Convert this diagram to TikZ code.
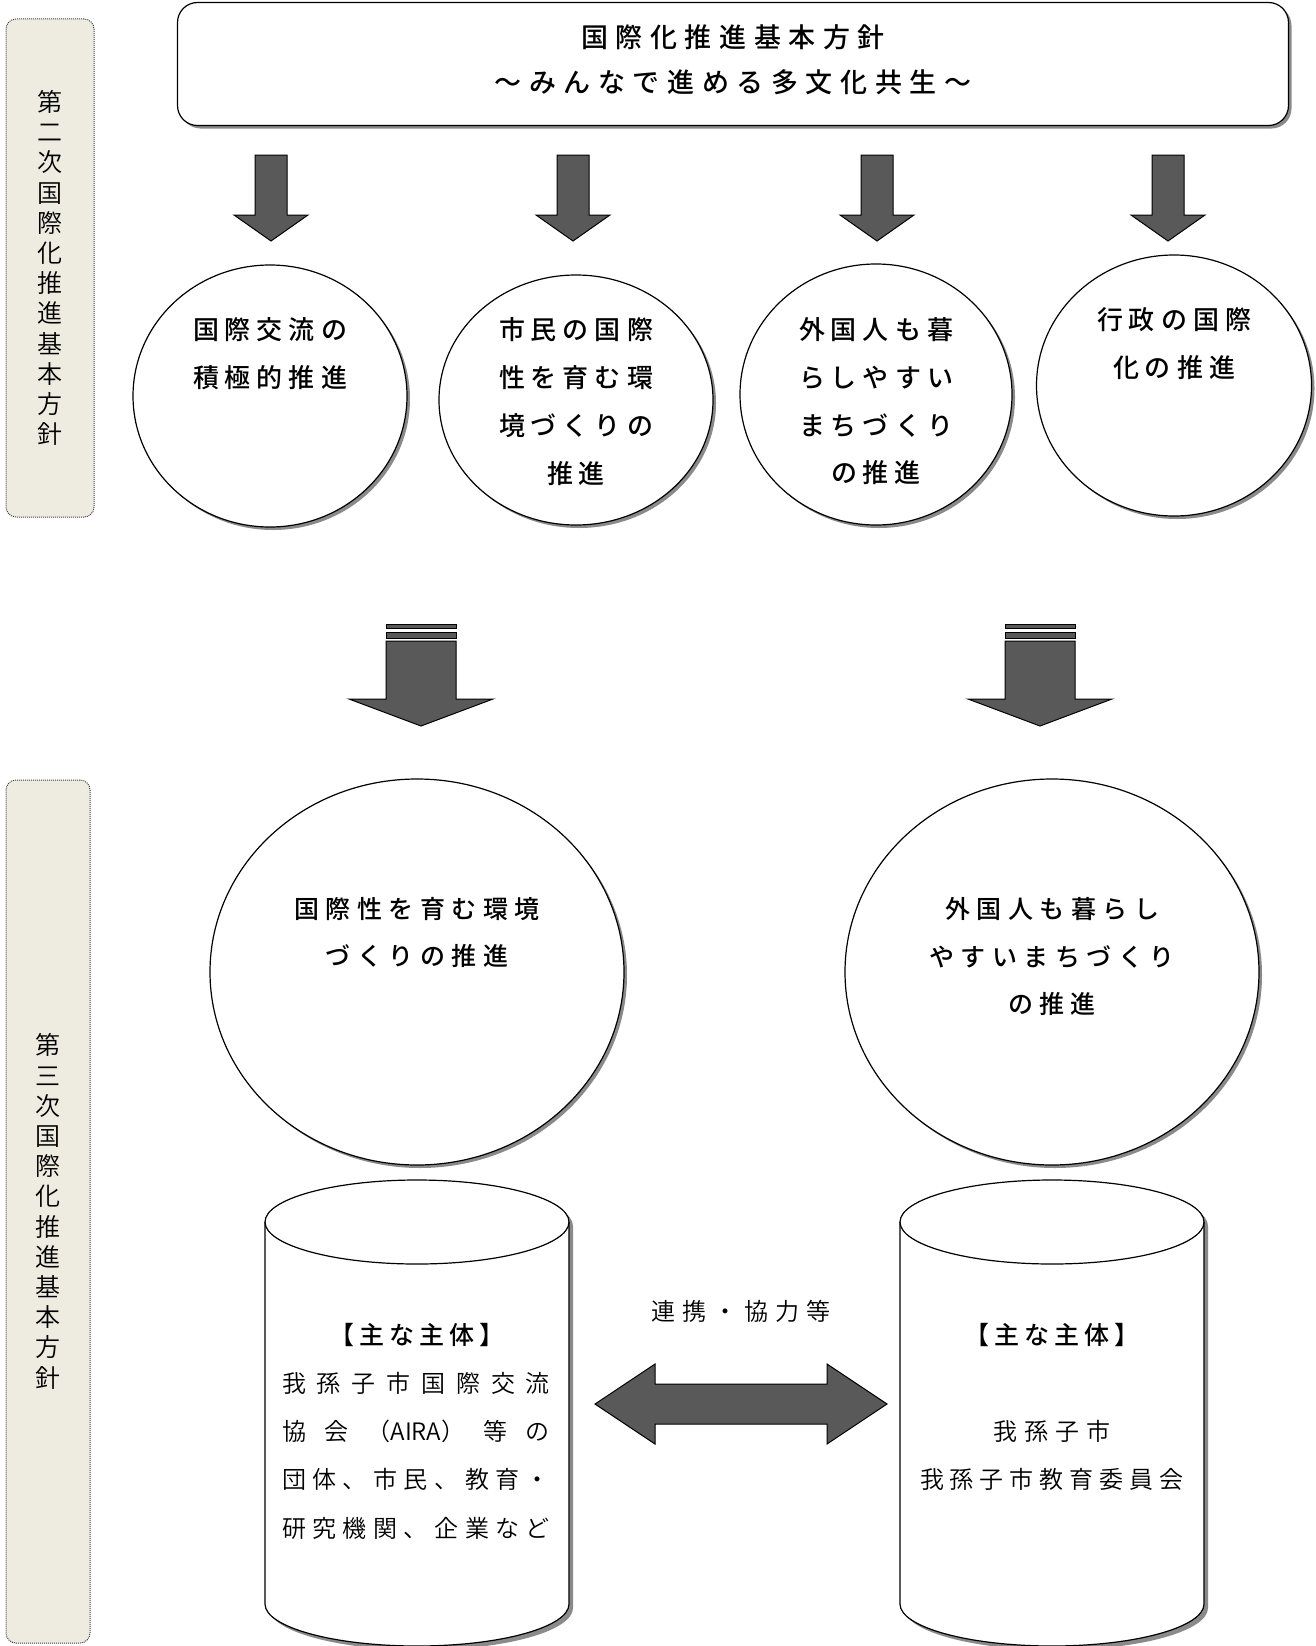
\documentclass[tikz,border=0pt]{standalone}
\usepackage{fontspec}
\IfFontExistsTF{Noto Sans CJK JP Medium}
  {\newfontfamily\jpb{Noto Sans CJK JP Medium}}
  {\newfontfamily\jpb{Noto Sans CJK JP Bold}}
\IfFontExistsTF{Noto Sans CJK JP DemiLight}
  {\newfontfamily\jp{Noto Sans CJK JP DemiLight}}
  {\newfontfamily\jp{Noto Sans CJK JP}}
\usetikzlibrary{shapes.geometric,shadows}
\makeatletter
\newcommand\pitch[2]{\@tfor\pitch@c:=#2\do{\makebox[#1]{\pitch@c}}}
\newcommand\justline[2]{\makebox[#1][s]{\def\jl@sep{}\@tfor\jl@c:=#2\do{\jl@sep\jl@c\def\jl@sep{\hfill}}}}
\makeatother
\definecolor{arrowgray}{HTML}{595959}
\definecolor{sidefill}{HTML}{EEECE1}
\definecolor{shadowgray}{HTML}{8A8A8A}
\tikzset{
  blockarrow/.style={draw=black, fill=arrowgray, line width=1pt, line join=miter},
  smallarrow/.pic={\draw[blockarrow] (-16,0) -- (16,0) -- (16,60) -- (37,60) -- (0,86) -- (-37,60) -- (-16,60) -- cycle;},
  bigarrow/.pic={
    \draw[blockarrow] (-35,0) rectangle (35,4);
    \draw[blockarrow] (-35,8) rectangle (35,14);
    \draw[blockarrow] (-35,17) -- (35,17) -- (35,75) -- (72,75) -- (0,102) -- (-72,75) -- (-35,75) -- cycle;}
}
\begin{document}
\begin{tikzpicture}[x=1pt,y=-1pt,line width=1.2pt,
  shadowed/.style={drop shadow={shadow xshift=3pt,shadow yshift=-3pt,fill=shadowgray,opacity=1}},
  sidebox/.style={draw=black!75, dash pattern=on 1pt off 1pt, fill=sidefill, rounded corners=10pt, line width=1pt,
     align=center, font=\jp\fontsize{25}{30.2}\selectfont, inner sep=0pt},
  circ/.style={ellipse, draw, fill=white, shadowed, inner sep=0pt, outer sep=0pt},
  ctext/.style={align=center, font=\jpb\fontsize{26}{47.7}\selectfont, inner sep=0pt},
  btext/.style={align=center, font=\jpb\fontsize{25}{47.7}\selectfont, inner sep=0pt},
  rtext/.style={align=center, font=\jp\fontsize{24}{48.3}\selectfont, inner sep=0pt}
]
\useasboundingbox[fill=white] (0,0) rectangle (1316,1646);

% side labels
\node[sidebox, minimum width=88pt, minimum height=498pt] (side1) at (50,268)
  {第\\二\\次\\国\\際\\化\\推\\進\\基\\本\\方\\針};
\node[sidebox, minimum width=84pt, minimum height=863pt] (side2) at (48,1211.5)
  {第\\三\\次\\国\\際\\化\\推\\進\\基\\本\\方\\針};

% title box
\node[draw, rounded corners=20pt, fill=white, shadowed, minimum width=1111pt, minimum height=123pt] (tbox) at (733,64) {};
\node[align=center, font=\jpb\fontsize{27}{45}\selectfont, inner sep=0pt] (ttext) at (733,59.5)
  {\pitch{34.6pt}{国際化推進基本方針}\\\pitch{34.6pt}{～みんなで進める多文化共生～}};

% small arrows
\pic at (271,155) {smallarrow};
\pic at (573,155) {smallarrow};
\pic at (877,155) {smallarrow};
\pic at (1168,155) {smallarrow};

% first row circles
\node[circ, minimum width=274pt, minimum height=262pt] (c1) at (270,396) {};
\node[circ, minimum width=274pt, minimum height=250pt] (c2) at (576,400) {};
\node[circ, minimum width=272pt, minimum height=261pt] (c3) at (876,394.5) {};
\node[circ, minimum width=275pt, minimum height=261pt] (c4) at (1174,385.5) {};
\node[ctext] (t1) at (270,353.5) {\pitch{32pt}{国際交流の}\\\pitch{32pt}{積極的推進}};
\node[ctext] (t2) at (576,401.5) {\pitch{32pt}{市民の国際}\\\pitch{32pt}{性を育む環}\\\pitch{32pt}{境づくりの}\\\pitch{32pt}{推進}};
\node[ctext] (t3) at (876,401.5) {\pitch{32pt}{外国人も暮}\\\pitch{32pt}{らしやすい}\\\pitch{32pt}{まちづくり}\\\pitch{32pt}{の推進}};
\node[ctext] (t4) at (1174,343.5) {\pitch{32pt}{行政の国際}\\\pitch{32pt}{化の推進}};

% big arrows
\pic at (421,624) {bigarrow};
\pic at (1040,624) {bigarrow};

% second row circles
\node[circ, minimum width=414pt, minimum height=386pt] (c5) at (417,972) {};
\node[circ, minimum width=414pt, minimum height=386pt] (c6) at (1052,972) {};
\node[btext] (t5) at (417,932.5) {\pitch{31.5pt}{国際性を育む環境}\\\pitch{31.5pt}{づくりの推進}};
\node[btext] (t6) at (1052,956.5) {\pitch{31.5pt}{外国人も暮らし}\\\pitch{31.5pt}{やすいまちづくり}\\\pitch{31.5pt}{の推進}};

% cylinders
\coordinate (cyl1) at (417,1222);
\coordinate (cyl2) at (1052,1222);
\begin{scope}[shift={(4,4)}]
  \fill[shadowgray] (265,1222) -- (265,1604) .. controls (265,1627) and (333,1646) .. (417,1646)
     .. controls (501,1646) and (569,1627) .. (569,1604) -- (569,1222)
     .. controls (569,1199) and (501,1180) .. (417,1180) .. controls (333,1180) and (265,1199) .. (265,1222) -- cycle;
  \fill[shadowgray] (900,1222) -- (900,1604) .. controls (900,1627) and (968,1646) .. (1052,1646)
     .. controls (1136,1646) and (1204,1627) .. (1204,1604) -- (1204,1222)
     .. controls (1204,1199) and (1136,1180) .. (1052,1180) .. controls (968,1180) and (900,1199) .. (900,1222) -- cycle;
\end{scope}
\draw[fill=white] (265,1222) -- (265,1604) .. controls (265,1627) and (333,1646) .. (417,1646)
     .. controls (501,1646) and (569,1627) .. (569,1604) -- (569,1222)
     .. controls (569,1199) and (501,1180) .. (417,1180) .. controls (333,1180) and (265,1199) .. (265,1222) -- cycle;
\draw (265,1222) .. controls (265,1245) and (333,1264) .. (417,1264) .. controls (501,1264) and (569,1245) .. (569,1222);
\draw[fill=white] (900,1222) -- (900,1604) .. controls (900,1627) and (968,1646) .. (1052,1646)
     .. controls (1136,1646) and (1204,1627) .. (1204,1604) -- (1204,1222)
     .. controls (1204,1199) and (1136,1180) .. (1052,1180) .. controls (968,1180) and (900,1199) .. (900,1222) -- cycle;
\draw (900,1222) .. controls (900,1245) and (968,1264) .. (1052,1264) .. controls (1136,1264) and (1204,1245) .. (1204,1222);

% cylinder texts
\node[font=\jpb\fontsize{25}{30}\selectfont, inner sep=0pt] (h1) at (417,1335) {\pitch{30pt}{【主な主体】}};
\node[rtext] (b1) at (416,1455.5) {\justline{268pt}{我孫子市国際交流}\\\justline{268pt}{協会{（AIRA）}等の}\\\justline{268pt}{団体、市民、教育・}\\\justline{268pt}{研究機関、企業など}};
\node[font=\jpb\fontsize{25}{30}\selectfont, inner sep=0pt] (h2) at (1052,1335) {\pitch{30pt}{【主な主体】}};
\node[rtext] (b2) at (1052,1455.5) {\pitch{31pt}{我孫子市}\\\pitch{30pt}{我孫子市教育委員会}};

% double arrow
\coordinate (dbl) at (741,1404);
\draw[blockarrow] (dbl) ++(-146,0) -- ++(60,-40) -- ++(0,20) -- ++(172,0) -- ++(0,-20) -- ++(60,40)
   -- ++(-60,40) -- ++(0,-20) -- ++(-172,0) -- ++(0,20) -- cycle;
\node[font=\jp\fontsize{24}{30}\selectfont, inner sep=0pt] (coop) at (741,1311) {\pitch{31pt}{連携・協力等}};
\end{tikzpicture}
\end{document}
